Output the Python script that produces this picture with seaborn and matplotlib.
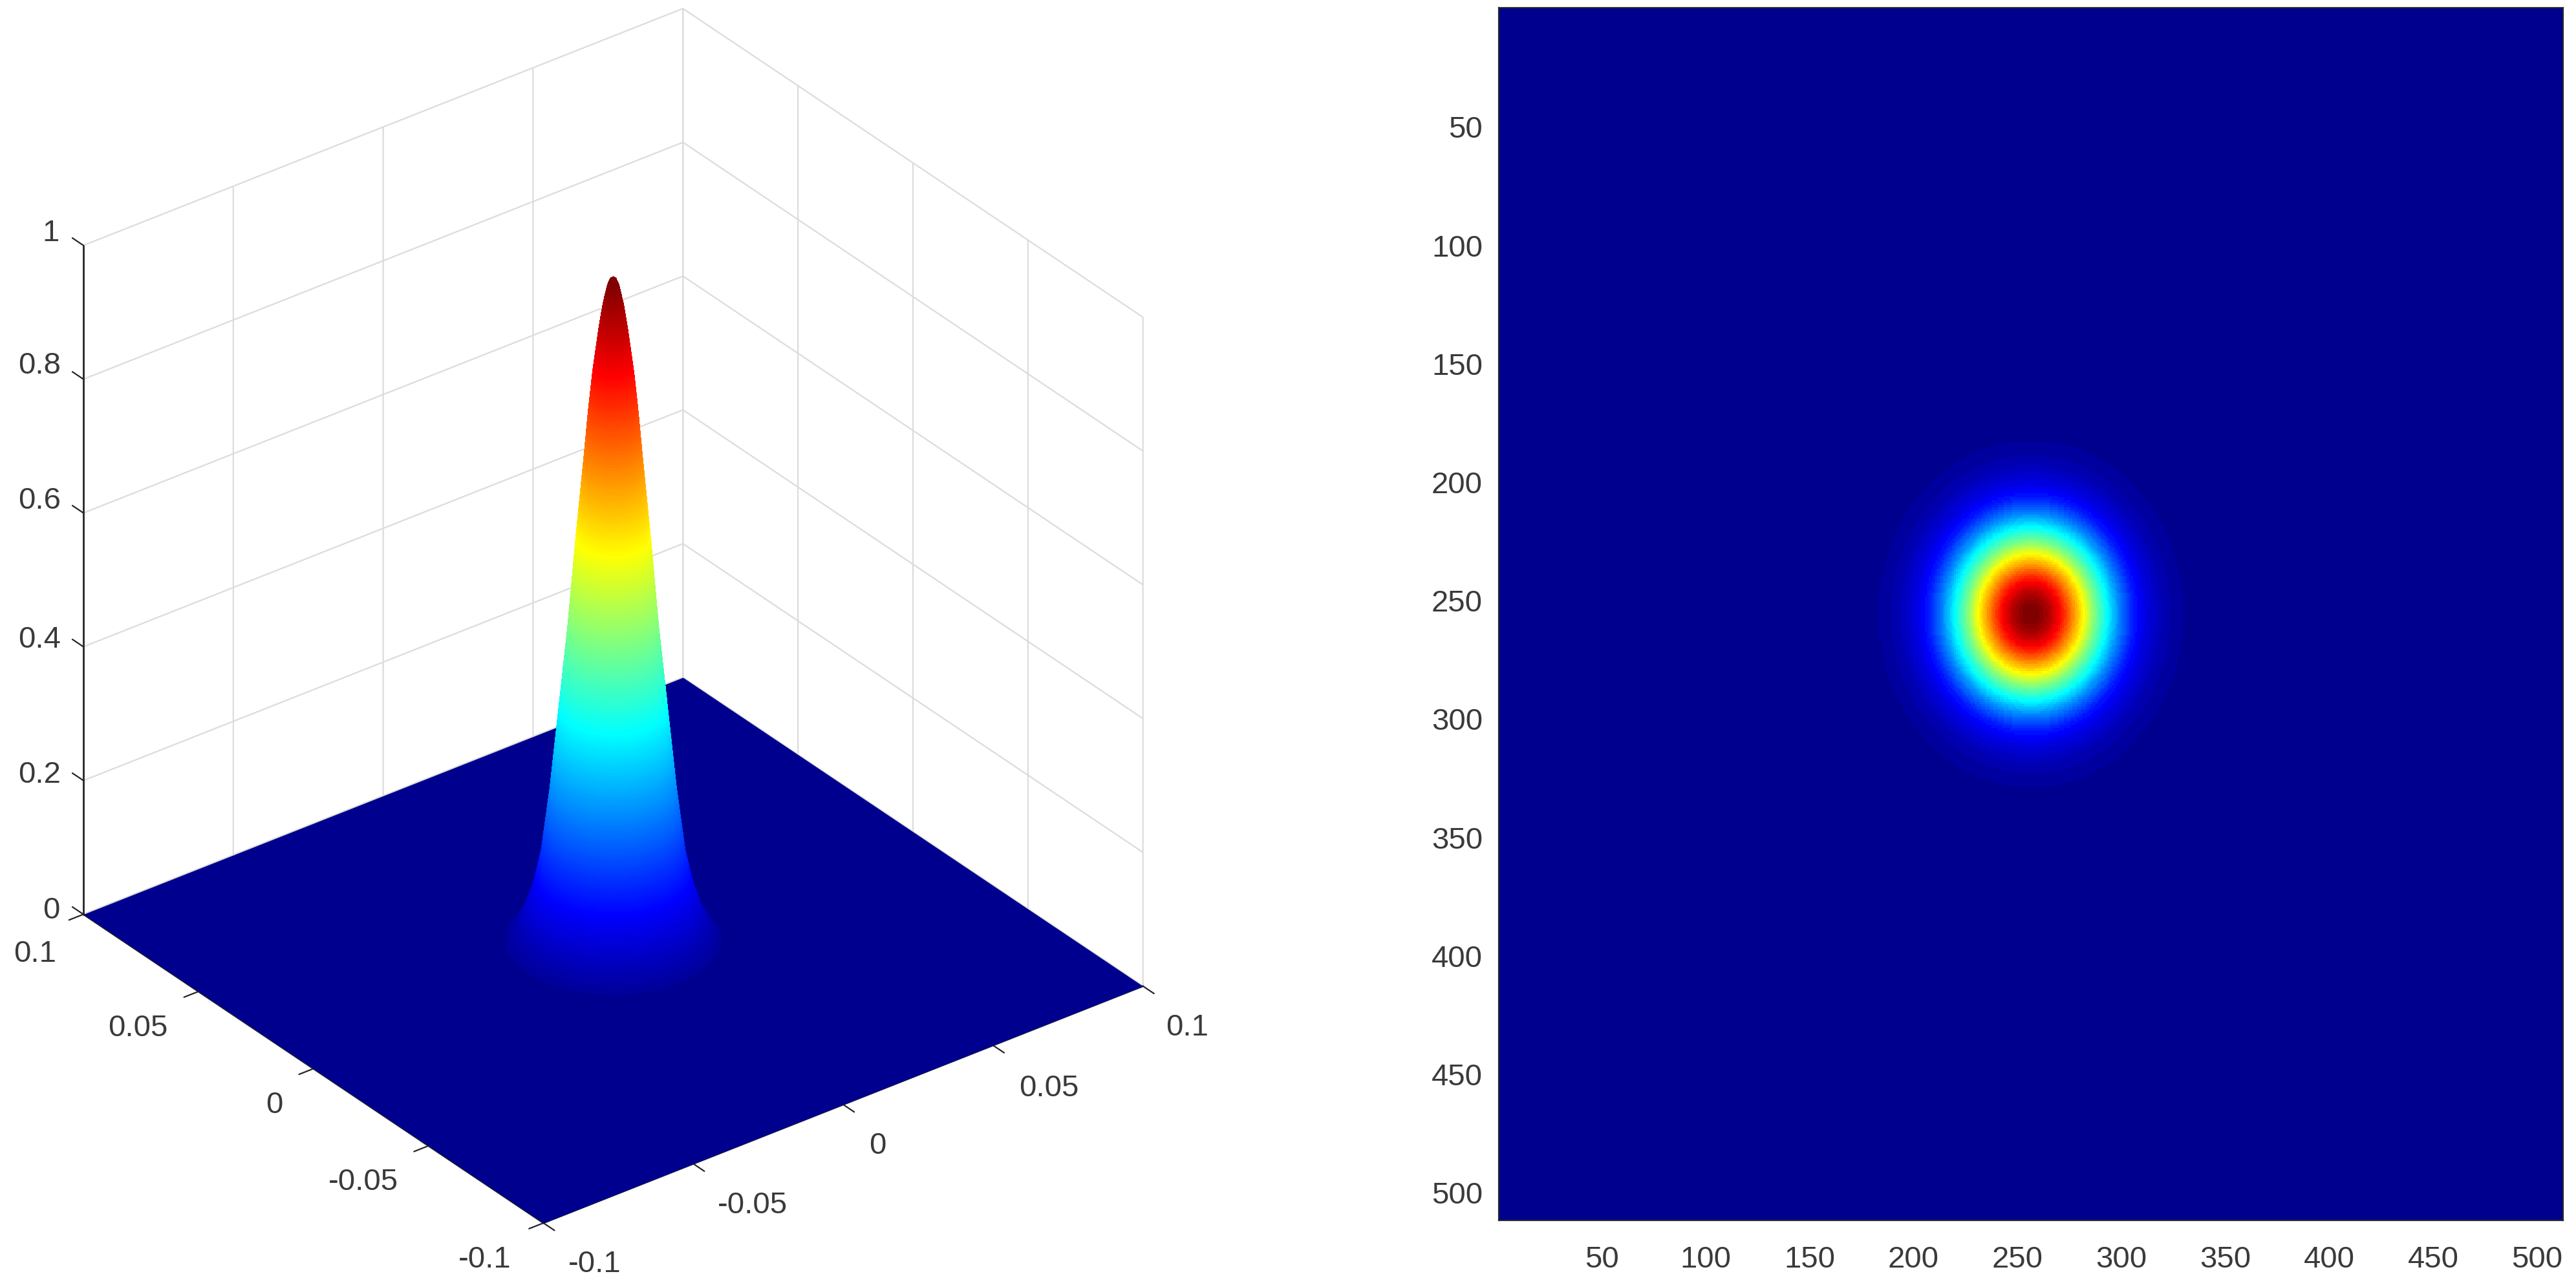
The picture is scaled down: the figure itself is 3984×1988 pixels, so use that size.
import numpy as np
import matplotlib
matplotlib.use("Agg")
import matplotlib.pyplot as plt
from matplotlib.colors import LinearSegmentedColormap
from matplotlib.transforms import ScaledTranslation
import seaborn as sns

# Radial profile of the beam (grid pixels from centre -> height)
radius_px = [0, 2, 4, 7, 10, 14, 17, 20, 25, 31, 37, 43, 49, 55, 62, 68, 73, 85, 100, 400]
height = [1.0, 0.997, 0.988, 0.963, 0.925, 0.865, 0.805, 0.735, 0.625, 0.48, 0.36, 0.24, 0.145, 0.09, 0.05, 0.028, 0.016, 0.004, 0.0, 0.0]
# the same profile as it stands on the left-hand surface, whose tip reaches slightly higher
surface_height = [1.007, 1.004, 0.994, 0.966, 0.927, 0.865, 0.805, 0.735, 0.625, 0.48, 0.36, 0.24, 0.145, 0.09, 0.05, 0.028, 0.016, 0.004, 0.0, 0.0]
grid_size = 512
centre_px = 256.5
half_width = 0.1

xy_ticks = [-0.1, -0.05, 0, 0.05, 0.1]
xy_labels = ["-0.1", "-0.05", "0", "0.05", "0.1"]
z_ticks = [0, 0.2, 0.4, 0.6, 0.8, 1]
z_labels = ["0", "0.2", "0.4", "0.6", "0.8", "1"]
img_ticks = [50, 100, 150, 200, 250, 300, 350, 400, 450, 500]

sns.set_theme(style="white")
plt.rcParams["font.family"] = ["Liberation Sans", "DejaVu Sans"]
plt.rcParams["grid.color"] = "#dcdcdc"
plt.rcParams["grid.linewidth"] = 0.8
TXT = "#3a3a3a"

anchors = [(0, (0, 0, 0.5625)), (7 / 63, (0, 0, 1)), (23 / 63, (0, 1, 1)), (39 / 63, (1, 1, 0)),
           (55 / 63, (1, 0, 0)), (1, (0.5, 0, 0))]
jet64 = LinearSegmentedColormap.from_list("jet64", anchors, N=64)
# same ramp in fine steps for the surface, keeping the flat floor colour of the first level
jet_fine = LinearSegmentedColormap.from_list(
    "jetfine",
    [(0, (0, 0, 0.5625)), (0.0155, (0, 0, 0.5625)), (0.0156, (0, 0, 0.60))] + anchors[1:],
    N=1024,
)

# image: the profile on the 512 x 512 pixel grid
idx = np.arange(1, grid_size + 1)
I, J = np.meshgrid(idx, idx)
Z = np.interp(np.hypot(I - centre_px, J - centre_px), radius_px, height)

# surface: the same profile on rings, which keeps the steep flank smooth
rings = np.linspace(0, 100, 500)
angles = np.linspace(0, 2 * np.pi, 241)
RR, TT = np.meshgrid(rings, angles)
unit = 2 * half_width / grid_size
X = RR * np.cos(TT) * unit
Y = RR * np.sin(TT) * unit
ZR = np.interp(RR, radius_px, surface_height)

W, H = 3984, 1988
fig = plt.figure(figsize=(W / 200, H / 200), dpi=200, facecolor="white")


def nudge(label, dx_disp, dy_disp):
    """Shift a 3D tick label on screen; amounts are in preview pixels."""
    k = 2.54 / 200
    label.set_transform(ax3.transData + ScaledTranslation(dx_disp * k, -dy_disp * k, fig.dpi_scale_trans))
    label.set_transform = lambda *_: None


# ---------- left: surface ----------
P = 1987
ax3 = fig.add_axes([-72 / W, 15 / H, P / W, P / H], projection="3d", proj_type="ortho",
                   computed_zorder=False)
ax3.view_init(elev=31, azim=-127.5)
ax3.set_box_aspect((1, 1, 1.033))
ax3.patch.set_alpha(0)
fx, fy = np.meshgrid([-half_width, half_width], [-half_width, half_width])
ax3.plot_surface(fx, fy, np.zeros_like(fx), color=jet64(0), shade=False, linewidth=0, zorder=1)
ax3.plot_surface(X, Y, ZR, cmap=jet_fine, vmin=0, vmax=1, rstride=1, cstride=1,
                 linewidth=0, antialiased=False, shade=False, zorder=2)
ax3.set_xlim(-half_width, half_width, view_margin=0)
ax3.set_ylim(-half_width, half_width, view_margin=0)
ax3.set_zlim(0, 1, view_margin=0)
ax3.set_xticks(xy_ticks, xy_labels)
ax3.set_yticks(xy_ticks, xy_labels)
ax3.set_zticks(z_ticks, z_labels)
for axis in (ax3.xaxis, ax3.yaxis, ax3.zaxis):
    axis.set_pane_color((1, 1, 1, 0))
    axis.pane.set_edgecolor("#dcdcdc")
    axis.line.set_color("#262626")
    axis.line.set_linewidth(1.0)
    axis._axinfo["tick"]["linewidth"] = {True: 0.8, False: 0.5}
    axis._axinfo["tick"]["color"] = "#262626"
for axis in (ax3.xaxis, ax3.yaxis):
    axis._axinfo["tick"]["inward_factor"] = 0.3
    axis._axinfo["tick"]["outward_factor"] = 0.0
ax3.zaxis._axinfo["tick"]["inward_factor"] = 0.0
ax3.zaxis._axinfo["tick"]["outward_factor"] = 0.3
ax3.zaxis._get_tickdir = lambda pos: 1
ax3.tick_params(axis="both", labelsize=17, labelcolor=TXT, pad=8)
ax3.tick_params(axis="z", labelsize=17, labelcolor=TXT, pad=8)

x_nudges = [(19, -9), (24, -9), (9, -9), (22, -8), (15, -9)]
y_nudges = [(-20, -10), (-24, -10), (-8, -10), (-21, -10), (-14, -8)]
z_nudges = [(8, -9), (1, -10), (1, -11), (1, -14), (1, -15), (8, -14)]
for axis, shifts in ((ax3.xaxis, x_nudges), (ax3.yaxis, y_nudges), (ax3.zaxis, z_nudges)):
    for tick, (dx, dy) in zip(axis.get_major_ticks(), shifts):
        nudge(tick.label1, dx, dy)

# ---------- right: image ----------
ax2 = fig.add_axes([2318 / W, (H - 1888) / H, 1646 / W, 1876 / H])
sns.heatmap(Z, cmap=jet64, vmin=0, vmax=1, cbar=False, ax=ax2, square=False)
ax2.set_xticks(np.array(img_ticks) - 0.5, [str(t) for t in img_ticks], rotation=0)
ax2.set_yticks(np.array(img_ticks) - 0.5, [str(t) for t in img_ticks], rotation=0)
ax2.tick_params(axis="both", direction="in", top=True, right=True, bottom=True, left=True,
                length=5, width=0.6, color="#262626", labelsize=17, labelcolor=TXT, pad=14)
ax2.tick_params(axis="y", pad=9)
down = ScaledTranslation(0, -8 / 200, fig.dpi_scale_trans)
for lab in ax2.get_yticklabels():
    lab.set_transform(lab.get_transform() + down)
for s in ax2.spines.values():
    s.set_visible(True)
    s.set_color("#262626")
    s.set_linewidth(0.8)

fig.savefig("out.png", dpi=200, facecolor="white")
